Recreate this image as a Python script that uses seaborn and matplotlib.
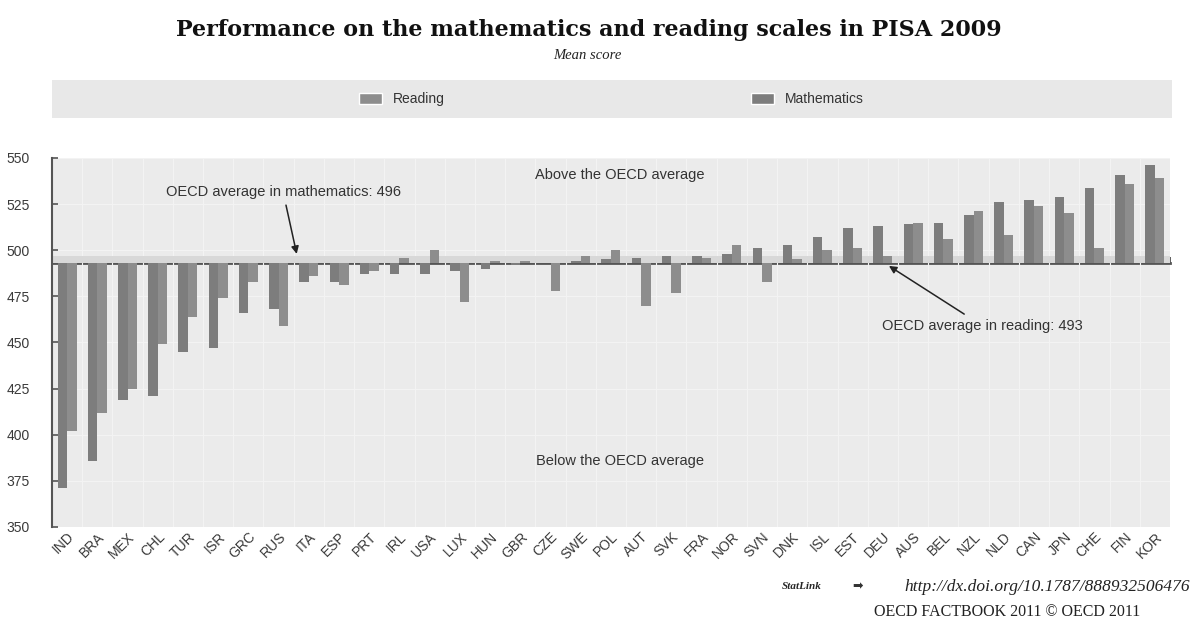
import pandas as pd
import matplotlib.pyplot as plt
import seaborn as sns
from matplotlib.patches import Patch, Rectangle

# PISA 2009 mean scores, countries sorted by mathematics score
countries = ['IND', 'BRA', 'MEX', 'CHL', 'TUR', 'ISR', 'GRC', 'RUS', 'ITA', 'ESP',
             'PRT', 'IRL', 'USA', 'LUX', 'HUN', 'GBR', 'CZE', 'SWE', 'POL', 'AUT',
             'SVK', 'FRA', 'NOR', 'SVN', 'DNK', 'ISL', 'EST', 'DEU', 'AUS', 'BEL',
             'NZL', 'NLD', 'CAN', 'JPN', 'CHE', 'FIN', 'KOR']
mathematics = [371, 386, 419, 421, 445, 447, 466, 468, 483, 483,
               487, 487, 487, 489, 490, 492, 493, 494, 495, 496,
               497, 497, 498, 501, 503, 507, 512, 513, 514, 515,
               519, 526, 527, 529, 534, 541, 546]
reading = [402, 412, 425, 449, 464, 474, 483, 459, 486, 481,
           489, 496, 500, 472, 494, 494, 478, 497, 500, 470,
           477, 496, 503, 483, 495, 500, 501, 497, 515, 506,
           521, 508, 524, 520, 501, 536, 539]
oecd_reading = 493
oecd_math = 496
y_ticks = [350, 375, 400, 425, 450, 475, 500, 525, 550]

series_order = ['Mathematics', 'Reading']
colors = {'Mathematics': '#7d7d7d', 'Reading': '#8d8d8d'}

# long format, bars are drawn from the OECD reading average
df = pd.concat([
    pd.DataFrame({'Country': countries, 'Series': 'Mathematics', 'Score': mathematics}),
    pd.DataFrame({'Country': countries, 'Series': 'Reading', 'Score': reading}),
])
df['Diff'] = df['Score'] - oecd_reading

sns.set_style('darkgrid', {'axes.facecolor': '#ebebeb', 'grid.color': '#f3f3f3'})
plt.rcParams['font.family'] = ['Liberation Sans', 'DejaVu Sans']

fig = plt.figure(figsize=(11.92, 6.21), dpi=100)
ax = fig.add_axes([0.0436, 0.1514, 0.9379, 0.5942])

sns.barplot(data=df, x='Country', y='Diff', hue='Series', order=countries,
            hue_order=series_order, palette=colors, width=0.63, dodge=True,
            bottom=oecd_reading, linewidth=0, errorbar=None, legend=False, ax=ax)

ax.set_xlim(-0.5, len(countries) - 0.5)
ax.set_ylim(350, 550)
ax.set_yticks(y_ticks)
ax.set_xlabel('')
ax.set_ylabel('')

# band between the two OECD averages
ax.axhspan(oecd_reading, oecd_math + 1, color='#d8d8d8', zorder=0.8, lw=0)

# grid on category boundaries
ax.set_xticks([i + 0.5 for i in range(len(countries) - 1)], minor=True)
ax.grid(False, axis='x', which='major')
ax.grid(True, axis='x', which='minor', lw=0.8)
ax.grid(True, axis='y', which='major', lw=0.8)
ax.set_axisbelow(True)

for s in ['top', 'right', 'bottom']:
    ax.spines[s].set_visible(False)
ax.spines['left'].set_visible(True)
ax.spines['left'].set_color('#555555')
ax.spines['left'].set_linewidth(1.5)
ax.tick_params(axis='y', direction='in', length=4, width=1.2, color='#555555',
               labelsize=10, labelcolor='#3a3a3a', left=True, pad=16)
ax.tick_params(axis='x', which='both', length=0, labelsize=10,
               labelcolor='#3a3a3a', pad=2)
for lab in ax.get_xticklabels():
    lab.set_rotation(45)
    lab.set_ha('right')
    lab.set_rotation_mode('anchor')

# category axis crossing at the reading average, ticks pointing up
base = ax.secondary_xaxis((oecd_reading - 350) / 200)
boundaries = [i - 0.5 for i in range(len(countries) + 1)]
base.set_xticks(boundaries, labels=[''] * len(boundaries))
base.tick_params(direction='out', length=4, width=1.2, color='#444444',
                 labelbottom=False, labeltop=False)
for s in ['top', 'bottom']:
    base.spines[s].set_color('#555555')
    base.spines[s].set_linewidth(2)

# annotations
arrow = dict(arrowstyle='-|>', color='#222222', lw=1.1, mutation_scale=11,
             shrinkA=2, shrinkB=0)
ax.annotate('OECD average in mathematics: 496', xy=(7.6, 498), xytext=(7.15, 531.5),
            ha='center', va='center', fontsize=10.5, color='#333333', arrowprops=arrow)
ax.annotate('OECD average in reading: 493', xy=(27.2, 491.5), xytext=(30.3, 459),
            ha='center', va='center', fontsize=10.5, color='#333333', arrowprops=arrow)
ax.text(18.3, 541, 'Above the OECD average', ha='center', va='center',
        fontsize=10.5, color='#333333')
ax.text(18.3, 385.5, 'Below the OECD average', ha='center', va='center',
        fontsize=10.5, color='#333333')

# titles
fig.text(0.494, 0.952, 'Performance on the mathematics and reading scales in PISA 2009',
         ha='center', va='center', fontsize=16, fontweight='bold',
         family=['DejaVu Serif'], color='#111111')
fig.text(0.493, 0.911, 'Mean score', ha='center', va='center', fontsize=10.5,
         style='italic', family=['Liberation Serif'], color='#222222')

# legend band
fig.add_artist(Rectangle((0.0436, 0.81), 0.9396, 0.061, transform=fig.transFigure,
                         facecolor='#e8e8e8', edgecolor='none', zorder=0))
handles = [Patch(facecolor=colors['Reading'], label='Reading'),
           Patch(facecolor=colors['Mathematics'], label='Mathematics')]
fig.legend(handles=handles, ncol=2, loc='center', bbox_to_anchor=(0.513, 0.84),
           frameon=False, fontsize=10, handlelength=1.65, handleheight=0.85,
           columnspacing=22, labelcolor='#333333')

# footer
fig.text(0.656, 0.055, 'StatLink', ha='left', va='center', fontsize=8,
         style='italic', fontweight='bold', family=['Liberation Serif'])
fig.text(0.715, 0.055, '\u27a1', ha='left', va='center', fontsize=9,
         family=['DejaVu Sans'], color='#333333')
fig.text(0.759, 0.055, 'http://dx.doi.org/10.1787/888932506476', ha='left',
         va='center', fontsize=12.5, style='italic', family=['Liberation Serif'],
         color='#222222')
fig.text(0.845, 0.015, 'OECD FACTBOOK 2011 \u00a9 OECD 2011', ha='center',
         va='center', fontsize=11.5, family=['Liberation Serif'], color='#222222')

fig.savefig('out.png', dpi=100, facecolor='white')
